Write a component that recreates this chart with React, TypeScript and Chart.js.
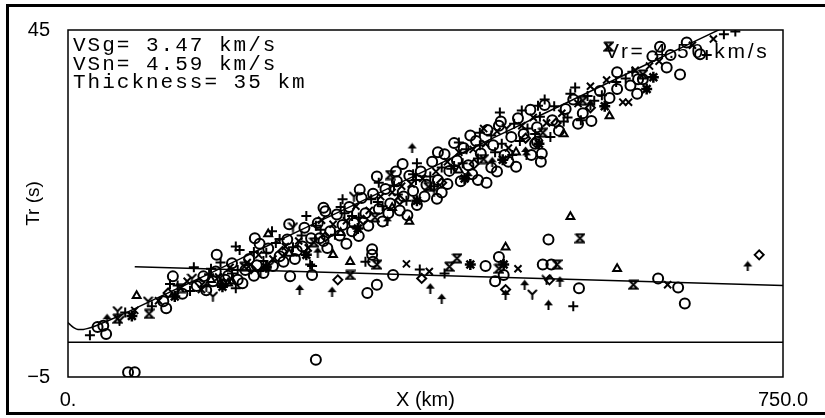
import React, { useEffect, useRef } from 'react';
import { Chart, registerables } from 'chart.js';
Chart.register(...registerables);

const X_MIN = 0;
const X_MAX = 750;
const Y_MIN = -5;
const Y_MAX = 45;
const X_TICK_LABELS = ['0.', '750.0'];
const Y_TICK_LABELS = ['\u22125', '45'];
const X_TITLE = 'X (km)';
const Y_TITLE = 'Tr (s)';
const PARAM_LINES = ['VSg= 3.47 km/s', 'VSn= 4.59 km/s', 'Thickness= 35 km'];
const VR_LABEL = 'Vr= 4.50 km/s';

// model curves
const sgCurve: number[][] = [[0, 2.86], [3, 2.45], [6, 2.1], [9, 1.9], [12, 1.83], [16, 1.86], [20, 1.97], [26, 2.2], [33, 2.6], [45, 3.28], [60, 4.2], [80, 5.5], [100, 6.8], [150, 10.0], [200, 13.3], [300, 19.8], [400, 26.4], [500, 33.0], [600, 39.6], [690, 45.5]];
const snLine: number[][] = [[70, 10.9], [750, 8.2]];

// observations by marker type
const circlePts: number[][] = [
  [63, -4.3], [70, -4.3], [260, -2.5], [40, 1.2], [31, 2.2], [37, 2.4], [100, 5.9], [103, 4.9], [110, 9.5], [120, 7.0], [135, 8.1], [142, 9.5], [145, 7.5], [152, 8.8], [155, 10.2], [156, 12.6], [165, 9.0], [168, 9.6], [172, 11.4], [178, 9.0], [183, 8.5], [186, 10.4], [190, 12.0], [195, 9.6], [196, 15.0], [198, 11.1], [201, 14.2], [205, 10.0], [210, 13.5], [215, 11.0], [222, 12.4], [226, 11.6], [230, 14.8], [232, 17.0], [233, 9.5], [238, 12.0], [240, 13.2], [246, 13.8], [248, 16.5], [255, 15.0], [256, 9.7], [262, 17.2], [264, 15.0], [268, 14.6], [268, 19.4], [270, 18.9], [272, 13.6], [275, 16.0], [282, 18.4], [285, 15.4], [288, 16.9], [292, 14.2], [295, 19.5], [298, 16.0], [300, 17.2], [305, 15.3], [306, 22.0], [308, 20.8], [312, 18.6], [314, 7.1], [315, 16.8], [319, 13.4], [319, 12.6], [320, 11.6], [320, 21.4], [324, 8.3], [324, 23.9], [326, 19.2], [330, 17.4], [333, 22.1], [336, 18.6], [338, 20.0], [341, 9.7], [344, 24.6], [345, 23.2], [348, 19.0], [351, 25.7], [352, 21.0], [356, 18.3], [358, 24.0], [362, 21.8], [366, 19.8], [370, 24.6], [374, 21.0], [376, 22.7], [382, 26.0], [387, 20.7], [388, 23.4], [388, 27.4], [392, 21.6], [395, 27.1], [398, 22.8], [400, 24.7], [405, 28.7], [408, 26.2], [412, 23.2], [415, 28.0], [420, 25.5], [422, 29.8], [424, 24.2], [428, 29.0], [430, 23.4], [433, 27.2], [438, 11.0], [439, 23.0], [440, 30.6], [444, 25.2], [446, 28.4], [448, 8.8], [450, 24.6], [452, 12.3], [452, 31.2], [454, 31.8], [457, 9.7], [458, 27.0], [462, 26.0], [465, 29.6], [470, 25.3], [472, 32.3], [478, 30.0], [485, 33.5], [486, 27.0], [490, 28.6], [492, 31.0], [492, 28.9], [496, 26.0], [497, 27.2], [498, 11.2], [500, 34.2], [504, 14.8], [507, 11.2], [508, 32.0], [515, 30.5], [522, 33.6], [530, 35.0], [535, 31.5], [536, 7.8], [540, 33.0], [549, 31.9], [558, 36.2], [568, 35.2], [576, 36.5], [576, 38.9], [590, 37.0], [597, 35.8], [598, 37.9], [603, 37.9], [613, 41.2], [619, 9.2], [621, 42.6], [628, 39.6], [632, 41.4], [640, 7.9], [642, 38.6], [647, 5.6], [649, 43.2], [663, 41.5]
];
const plusPts: number[][] = [
  [23, 1.0], [60, 4.3], [88, 5.2], [107, 8.4], [115, 8.2], [128, 7.4], [132, 10.8], [148, 9.8], [150, 10.6], [160, 11.5], [172, 9.9], [176, 7.8], [176, 13.8], [178, 10.4], [180, 13.3], [195, 13.0], [205, 11.7], [208, 12.9], [214, 16.0], [218, 14.3], [222, 14.9], [236, 13.7], [245, 15.4], [250, 18.2], [254, 11.2], [256, 11.0], [260, 16.8], [265, 16.2], [280, 15.5], [286, 19.5], [288, 20.6], [290, 18.6], [298, 18.2], [305, 18.0], [312, 11.6], [318, 20.6], [325, 20.2], [326, 23.0], [330, 19.6], [342, 22.6], [346, 21.3], [355, 20.4], [362, 24.2], [365, 23.4], [366, 25.8], [369, 10.5], [380, 23.9], [384, 22.5], [392, 25.2], [395, 9.9], [402, 25.0], [405, 25.4], [410, 28.8], [414, 25.8], [418, 27.8], [430, 26.5], [432, 28.4], [432, 30.2], [444, 29.8], [448, 27.4], [453, 33.1], [455, 28.6], [466, 27.0], [468, 31.5], [474, 29.0], [476, 33.4], [482, 30.8], [490, 30.0], [493, 34.1], [495, 32.5], [500, 35.0], [506, 29.6], [510, 34.0], [520, 31.8], [524, 32.4], [527, 35.8], [530, 5.2], [532, 36.7], [538, 32.0], [545, 35.5], [552, 34.8], [560, 35.6], [575, 37.5], [585, 38.0], [592, 39.0], [670, 41.4], [688, 44.4], [700, 44.8]
];
const xPts: number[][] = [
  [70, 4.6], [95, 6.0], [125, 8.8], [140, 7.6], [158, 9.4], [170, 10.8], [188, 11.5], [200, 12.6], [215, 12.0], [228, 13.8], [242, 14.6], [252, 13.6], [266, 17.6], [278, 17.0], [292, 17.5], [302, 19.6], [316, 19.0], [328, 21.0], [340, 21.6], [350, 22.5], [355, 11.3], [360, 22.8], [372, 23.6], [379, 10.2], [386, 24.6], [398, 26.0], [410, 27.4], [425, 27.8], [436, 30.8], [438, 28.6], [450, 30.4], [462, 28.0], [472, 10.6], [476, 31.2], [488, 32.4], [502, 31.6], [518, 33.0], [535, 34.4], [548, 36.9], [565, 37.8], [582, 34.6], [588, 34.6], [595, 39.2], [610, 39.8], [620, 40.5], [629, 8.3], [655, 42.8], [677, 43.7]
];
const trianglePts: number[][] = [
  [72, 6.7], [150, 9.0], [160, 8.5], [163, 8.5], [168, 8.5], [172, 8.8], [210, 15.6], [232, 12.8], [278, 12.6], [286, 15.8], [296, 11.6], [340, 19.4], [358, 17.4], [410, 24.8], [459, 13.7], [470, 27.4], [520, 30.0], [527, 18.1], [568, 32.6], [576, 10.6]
];
const diamondPts: number[][] = [
  [105, 7.1], [138, 8.6], [192, 10.6], [225, 13.1], [270, 15.2], [283, 9.0], [310, 17.6], [348, 20.5], [371, 9.2], [392, 23.0], [426, 25.7], [459, 7.6], [480, 29.4], [505, 9.0], [512, 31.6], [548, 33.8], [725, 12.6]
];
const hourglassPts: number[][] = [
  [52, 3.4], [85, 4.1], [118, 7.8], [185, 10.9], [258, 14.4], [296, 9.7], [322, 18.0], [324, 11.2], [338, 24.1], [378, 22.4], [400, 10.9], [408, 12.1], [436, 26.4], [452, 10.6], [498, 30.2], [513, 11.2], [537, 15.0], [540, 34.8], [567, 42.6], [593, 8.3], [603, 38.6]
];
const yPts: number[][] = [
  [52, 4.5], [54, 3.1], [84, 5.9], [130, 9.2], [152, 6.6], [212, 11.1], [236, 16.6], [300, 21.0], [384, 21.8], [460, 30.8], [487, 6.9], [502, 9.0]
];
const spadePts: number[][] = [
  [41, 3.4], [145, 8.0], [202, 10.2], [243, 7.6], [262, 13.0], [277, 7.3], [335, 17.5], [361, 28.0], [380, 7.8], [392, 6.3], [420, 24.0], [445, 26.0], [459, 6.9], [479, 8.3], [480, 27.5], [481, 27.0], [504, 5.4], [516, 8.8], [548, 34.3], [713, 11.0]
];
const starPts: number[][] = [
  [67, 3.8], [112, 6.6], [162, 8.0], [208, 10.8], [250, 12.6], [304, 16.4], [366, 20.4], [416, 23.6], [422, 11.2], [456, 26.3], [457, 11.2], [494, 28.6], [563, 34.0], [607, 36.5], [614, 38.2]
];

const toPts = (a: number[][]) => a.map(([x, y]) => ({ x, y }));

function makeMarker(kind: string): HTMLCanvasElement {
  const c = document.createElement('canvas');
  c.width = 11;
  c.height = 11;
  const g = c.getContext('2d')!;
  g.strokeStyle = '#000';
  g.fillStyle = '#000';
  g.lineWidth = 2;
  g.lineCap = 'round';
  g.beginPath();
  if (kind === 'hourglass') {
    g.moveTo(1.5, 1.5); g.lineTo(9.5, 1.5); g.lineTo(1.5, 9.5); g.lineTo(9.5, 9.5); g.lineTo(1.5, 1.5);
    g.stroke();
  } else if (kind === 'y') {
    g.moveTo(1.5, 1.5); g.lineTo(5.5, 5.5); g.lineTo(9.5, 1.5);
    g.moveTo(5.5, 5.5); g.lineTo(5.5, 10);
    g.stroke();
  } else if (kind === 'spade') {
    g.moveTo(5.5, 0.5); g.lineTo(1, 6); g.lineTo(10, 6); g.closePath();
    g.fill();
    g.beginPath();
    g.moveTo(5.5, 5); g.lineTo(5.5, 10.5);
    g.stroke();
  }
  return c;
}

const FONT_SANS = '"Liberation Sans", Arial, sans-serif';
const FONT_MONO = '"Liberation Mono", "Courier New", monospace';

const decor = {
  id: 'decor',
  beforeDatasetsDraw(chart: any) {
    const { ctx, chartArea: a, scales } = chart;
    ctx.save();
    ctx.strokeStyle = '#000';
    ctx.lineWidth = 1.5;
    const y0 = scales.y.getPixelForValue(0);
    ctx.beginPath();
    ctx.moveTo(a.left, y0);
    ctx.lineTo(a.right, y0);
    ctx.stroke();
    ctx.strokeRect(a.left, a.top, a.right - a.left, a.bottom - a.top);
    ctx.fillStyle = '#000';
    ctx.textAlign = 'left';
    ctx.textBaseline = 'alphabetic';
    ctx.font = '21px ' + FONT_MONO;
    (ctx as any).letterSpacing = '2px';
    PARAM_LINES.forEach((t, i) => ctx.fillText(t, a.left + 5, a.top + 21 + i * 18.5));
    ctx.font = '21px ' + FONT_SANS;
    (ctx as any).letterSpacing = '2.7px';
    ctx.fillText(VR_LABEL, a.right - 178, a.top + 28);
    (ctx as any).letterSpacing = '0px';
    ctx.restore();
  },
  afterDraw(chart: any) {
    const { ctx, width, height } = chart;
    ctx.save();
    ctx.strokeStyle = '#000';
    ctx.lineWidth = 3;
    ctx.beginPath();
    ctx.moveTo(width, 5.5);
    ctx.lineTo(7.5, 5.5);
    ctx.lineTo(7.5, height - 4.5);
    ctx.lineTo(width, height - 4.5);
    ctx.stroke();
    ctx.restore();
  },
};

export default function App() {
  const ref = useRef<HTMLCanvasElement>(null);
  useEffect(() => {
    const canvas = ref.current!;
    const hourglass = makeMarker('hourglass');
    const yMark = makeMarker('y');
    const spade = makeMarker('spade');
    const base = { showLine: false, borderColor: '#000', backgroundColor: 'rgba(0,0,0,0)', borderWidth: 2 };
    const chart = new Chart(canvas, {
      type: 'scatter',
      data: {
        datasets: [
          { ...base, label: 'Sg', data: toPts(sgCurve), showLine: true, pointRadius: 0, borderWidth: 1.5, cubicInterpolationMode: 'monotone' } as any,
          { ...base, label: 'Sn', data: toPts(snLine), showLine: true, pointRadius: 0, borderWidth: 1.5 } as any,
          { ...base, label: 'o', data: toPts(circlePts), pointStyle: 'circle', pointRadius: 5 },
          { ...base, label: '+', data: toPts(plusPts), pointStyle: 'cross', pointRadius: 5 },
          { ...base, label: 'x', data: toPts(xPts), pointStyle: 'crossRot', pointRadius: 5 },
          { ...base, label: 'tri', data: toPts(trianglePts), pointStyle: 'triangle', pointRadius: 4.5 },
          { ...base, label: 'dia', data: toPts(diamondPts), pointStyle: 'rectRot', pointRadius: 4.5 },
          { ...base, label: 'hg', data: toPts(hourglassPts), pointStyle: hourglass as any, pointRadius: 5 },
          { ...base, label: 'Y', data: toPts(yPts), pointStyle: yMark as any, pointRadius: 5 },
          { ...base, label: 'sp', data: toPts(spadePts), pointStyle: spade as any, pointRadius: 5 },
          { ...base, label: 'st', data: toPts(starPts), pointStyle: 'star', pointRadius: 5.5, borderWidth: 2.5 },
        ],
      },
      options: {
        animation: false,
        responsive: false,
        maintainAspectRatio: false,
        devicePixelRatio: 1,
        events: [],
        layout: { padding: { left: 7, top: 25, right: 42, bottom: 0 } },
        plugins: { legend: { display: false }, tooltip: { enabled: false } },
        scales: {
          x: {
            type: 'linear',
            min: X_MIN,
            max: X_MAX,
            grid: { display: false, drawTicks: false },
            border: { display: false },
            afterBuildTicks: (s: any) => { s.ticks = [{ value: X_MIN }, { value: X_MAX }]; },
            afterFit: (s: any) => { s.height = 41; },
            ticks: {
              padding: 11, maxRotation: 0, autoSkip: false, color: '#000',
              font: { family: FONT_SANS, size: 20 },
              callback: (_v: any, i: number) => X_TICK_LABELS[i],
            },
            title: { display: true, text: X_TITLE, color: '#000', font: { family: FONT_SANS, size: 20 }, padding: { top: 0, bottom: 6 } },
          },
          y: {
            type: 'linear',
            min: Y_MIN,
            max: Y_MAX,
            grid: { display: false, drawTicks: false },
            border: { display: false },
            afterBuildTicks: (s: any) => { s.ticks = [{ value: Y_MIN }, { value: Y_MAX }]; },
            afterFit: (s: any) => { s.width = 61; },
            ticks: {
              padding: 18, autoSkip: false, color: '#000',
              font: { family: FONT_SANS, size: 20 },
              callback: (_v: any, i: number) => Y_TICK_LABELS[i],
            },
            title: { display: true, text: Y_TITLE, color: '#000', font: { family: FONT_SANS, size: 19 }, padding: { top: 15, bottom: 0 } },
          },
        },
      } as any,
      plugins: [decor],
    });
    return () => chart.destroy();
  }, []);
  return (
    <div style={{ position: 'fixed', left: 0, top: 0, width: 825, height: 418, background: '#fff' }}>
      <canvas ref={ref} width={825} height={418} style={{ width: 825, height: 418, display: 'block' }} />
    </div>
  );
}
